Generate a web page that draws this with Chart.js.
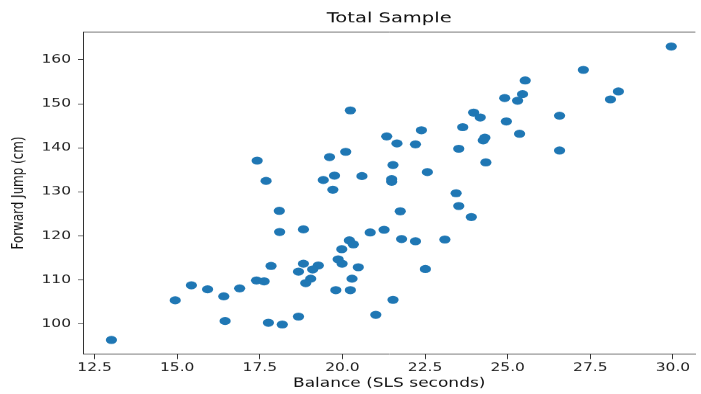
<!DOCTYPE html>
<html>
<head>
<meta charset="utf-8">
<script src="https://cdn.jsdelivr.net/npm/chart.js@4"></script>
<style>
html,body{margin:0;padding:0;overflow:hidden;background:#fff}
#view{width:100vw;height:100vh;overflow:hidden;position:relative}
#wrap{width:701px;height:547px;transform-origin:0 0;position:absolute;left:0;top:0}
</style>
</head>
<body>
<div id="view"><div id="wrap"><canvas id="scatterChart" width="701" height="547"></canvas></div></div>
<script>
const balance = [29.95,27.29,25.53,25.45,24.91,25.30,28.35,28.11,23.97,24.17,
26.57,24.96,23.64,22.39,21.34,21.65,22.21,23.52,24.31,24.26,
25.36,26.57,21.53,22.57,24.34,21.49,21.49,23.44,23.52,23.90,
21.75,21.26,21.79,22.21,23.10,22.51,21.53,21.01,20.24,17.42,
19.61,20.10,17.69,19.42,19.76,20.59,19.71,18.09,18.10,18.82,
20.84,20.21,20.33,19.98,19.87,19.99,20.48,17.84,18.82,19.27,
19.10,18.67,19.04,18.89,20.29,17.40,17.63,15.43,15.92,16.89,
16.41,14.94,19.80,20.24,16.45,17.76,18.18,18.67,13.01]

const forwardJump = [163.0,157.7,155.3,152.2,151.3,150.7,152.8,151.0,148.0,146.9,
147.3,146.0,144.7,144.0,142.6,141.0,140.8,139.8,142.3,141.7,
143.2,139.4,136.1,134.5,136.7,132.9,132.3,129.7,126.8,124.3,
125.6,121.4,119.3,118.8,119.2,112.5,105.5,102.1,148.5,137.1,
137.9,139.1,132.5,132.7,133.7,133.6,130.5,125.7,120.9,121.5,
120.8,119.0,118.1,117.0,114.7,113.7,112.9,113.2,113.7,113.3,
112.4,111.9,110.3,109.3,110.3,109.9,109.7,108.8,107.9,108.1,
106.3,105.4,107.7,107.7,100.7,100.3,99.9,101.7,96.4]

const xTicks = [12.5,15.0,17.5,20.0,22.5,25.0,27.5,30.0]
const yTicks = [100,110,120,130,140,150,160]

const font = "'DejaVu Sans', sans-serif"

// the original figure is squashed vertically, so draw tall and squeeze to fill the window
const wrap = document.getElementById("wrap")
const sx = window.innerWidth / 701
const sy = window.innerHeight / 547
wrap.style.transform = `scale(${sx}, ${sy})`

// top spine only, the right one falls outside the picture
const frame = {
id:'frame',
afterDraw(chart){
const {ctx, chartArea:a} = chart
ctx.save()
ctx.strokeStyle = '#333'
ctx.lineWidth = 1
ctx.beginPath()
ctx.moveTo(a.left, a.top)
ctx.lineTo(a.right, a.top)
ctx.stroke()
ctx.restore()
}
}

new Chart(document.getElementById("scatterChart"),{
type:'scatter',
data:{
datasets:[{
data: balance.map((b,i)=>({x:b, y:forwardJump[i]})),
backgroundColor:'#1f77b4',
borderColor:'#1f77b4',
borderWidth:0,
pointRadius:5.6
}]
},
plugins:[frame],
options:{
responsive:false,
animation:false,
events:[],
layout:{padding:0},
plugins:{
legend:{display:false},
tooltip:{enabled:false},
title:{
display:true,
text:'Total Sample',
fullSize:false,
color:'#111',
font:{family:font, size:19.5, weight:'normal', lineHeight:1.2},
padding:{top:14, bottom:7}
}
},
scales:{
x:{
type:'linear',
min:12.15,
max:30.68,
afterBuildTicks:axis=>{ axis.ticks = xTicks.map(v=>({value:v})) },
afterFit:scale=>{ scale.height = 55.5 },
ticks:{
color:'#222',
font:{family:font, size:15.5},
padding:3,
maxRotation:0,
callback:v=>v.toFixed(1)
},
grid:{drawOnChartArea:false, drawTicks:true, tickLength:7, color:'#333'},
border:{display:true, color:'#333', width:1},
title:{
display:true,
text:'Balance (SLS seconds)',
color:'#111',
font:{family:font, size:17, lineHeight:1.2},
padding:{top:0, bottom:4}
}
},
y:{
type:'linear',
min:93.2,
max:166.3,
afterBuildTicks:axis=>{ axis.ticks = yTicks.map(v=>({value:v})) },
afterFit:scale=>{ scale.width = 83 },
ticks:{
color:'#222',
font:{family:font, size:15.5},
padding:7,
callback:v=>v
},
grid:{drawOnChartArea:false, drawTicks:true, tickLength:5, color:'#333'},
border:{display:true, color:'#333', width:1},
title:{
display:true,
text:'Forward Jump (cm)',
color:'#111',
font:{family:font, size:16.5, lineHeight:1.2},
padding:{top:9, bottom:0}
}
}
}
}
})
</script>
</body>
</html>
